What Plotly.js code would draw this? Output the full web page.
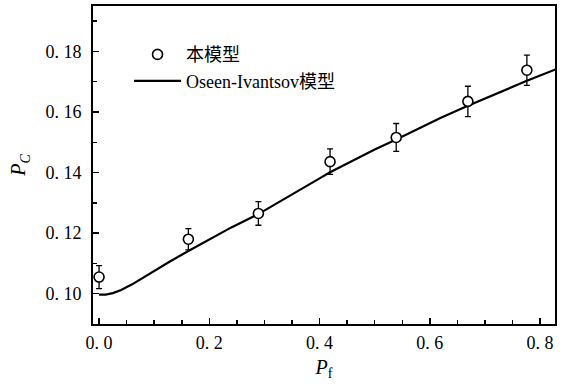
<!DOCTYPE html>
<html>
<head>
<meta charset="utf-8">
<script src="https://cdn.plot.ly/plotly-3.0.1.min.js"></script>
<style>
html,body{margin:0;padding:0;background:#fff;}
#chart{width:567px;height:384px;}
</style>
</head>
<body>
<div id="chart"></div>
<script>
// Measured data (本模型)
const dataX = [0.000, 0.162, 0.289, 0.419, 0.539, 0.669, 0.776];
const dataY = [0.1055, 0.1180, 0.1265, 0.1436, 0.1516, 0.1635, 0.1738];
const dataErr = [0.0038, 0.0035, 0.0039, 0.0042, 0.0046, 0.0050, 0.0050];

// Oseen-Ivantsov model curve
const curveX = [0.000, 0.012, 0.025, 0.040, 0.060, 0.080, 0.100, 0.130, 0.162, 0.200, 0.240, 0.288, 0.340, 0.400, 0.419, 0.460, 0.500, 0.540, 0.583, 0.620, 0.668, 0.720, 0.776, 0.830];
const curveY = [0.0997, 0.0997, 0.1002, 0.1012, 0.1031, 0.1053, 0.1076, 0.1108, 0.1141, 0.1179, 0.1219, 0.1262, 0.1316, 0.1381, 0.1401, 0.1439, 0.1476, 0.1510, 0.1549, 0.1581, 0.1620, 0.1661, 0.1703, 0.1742];

// Tick labels
const xTickVals = [0, 0.2, 0.4, 0.6, 0.8];
const xTickText = ['0. 0', '0. 2', '0. 4', '0. 6', '0. 8'];
const xMidTickVals = [0.1, 0.3, 0.5, 0.7];
const yTickVals = [0.10, 0.12, 0.14, 0.16, 0.18];
const yTickText = ['0. 10', '0. 12', '0. 14', '0. 16', '0. 18'];

const serif = 'Liberation Serif, Times New Roman, Noto Sans CJK SC, serif';
const xRange = [-0.011, 0.827];

const traces = [
  {
    x: curveX, y: curveY, type: 'scatter', mode: 'lines',
    name: 'Oseen-Ivantsov模型',
    line: {color: '#000', width: 2.2, shape: 'linear'},
    legendrank: 2
  },
  {
    x: dataX, y: dataY, type: 'scatter', mode: 'markers',
    name: '本模型',
    marker: {symbol: 'circle', size: 10, color: '#fff', line: {color: '#000', width: 1.6}},
    error_y: {type: 'data', array: dataErr, visible: true, color: '#000', thickness: 1.3, width: 3},
    legendrank: 1
  }
];

const layout = {
  width: 567, height: 384,
  margin: {l: 93, r: 12, t: 6, b: 60},
  paper_bgcolor: '#fff', plot_bgcolor: '#fff',
  font: {family: serif, size: 18, color: '#000'},
  showlegend: true,
  legend: {
    x: 0.078, y: 0.905, xanchor: 'left', yanchor: 'top',
    bgcolor: 'rgba(0,0,0,0)', borderwidth: 0,
    font: {family: serif, size: 18, color: '#000'},
    itemwidth: 47, tracegroupgap: 0
  },
  xaxis: {
    range: xRange,
    showgrid: false, zeroline: false,
    showline: true, linecolor: '#000', linewidth: 2, mirror: true,
    ticks: 'inside', ticklen: 6, tickwidth: 1.5, tickcolor: '#000',
    tickmode: 'array', tickvals: xTickVals, ticktext: xTickText,
    minor: {dtick: 0.05, tick0: 0, ticks: 'inside', ticklen: 4, tickwidth: 1.5, tickcolor: '#000'},
    tickfont: {family: serif, size: 18, color: '#000'},
    ticklabelstandoff: 1,
    title: {text: '<i>P</i><sub>f</sub>', font: {family: serif, size: 20, color: '#000'}, standoff: 8}
  },
  xaxis2: {
    overlaying: 'x', anchor: 'y', side: 'bottom',
    range: xRange,
    showgrid: false, zeroline: false, showline: false,
    ticks: 'inside', ticklen: 6, tickwidth: 1.5, tickcolor: '#000',
    tickmode: 'array', tickvals: xMidTickVals,
    showticklabels: false
  },
  yaxis: {
    range: [0.09, 0.195],
    showgrid: false, zeroline: false,
    showline: true, linecolor: '#000', linewidth: 2, mirror: true,
    ticks: 'inside', ticklen: 6, tickwidth: 1.5, tickcolor: '#000',
    tickmode: 'array', tickvals: yTickVals, ticktext: yTickText,
    minor: {dtick: 0.01, tick0: 0, ticks: 'inside', ticklen: 4, tickwidth: 1.5, tickcolor: '#000'},
    tickfont: {family: serif, size: 18, color: '#000'},
    ticklabelstandoff: 6,
    title: {text: '<i>P<sub>C</sub></i>', font: {family: serif, size: 20, color: '#000'}, standoff: 14}
  }
};

Plotly.newPlot('chart', traces, layout, {displayModeBar: false, staticPlot: true});
</script>
</body>
</html>
